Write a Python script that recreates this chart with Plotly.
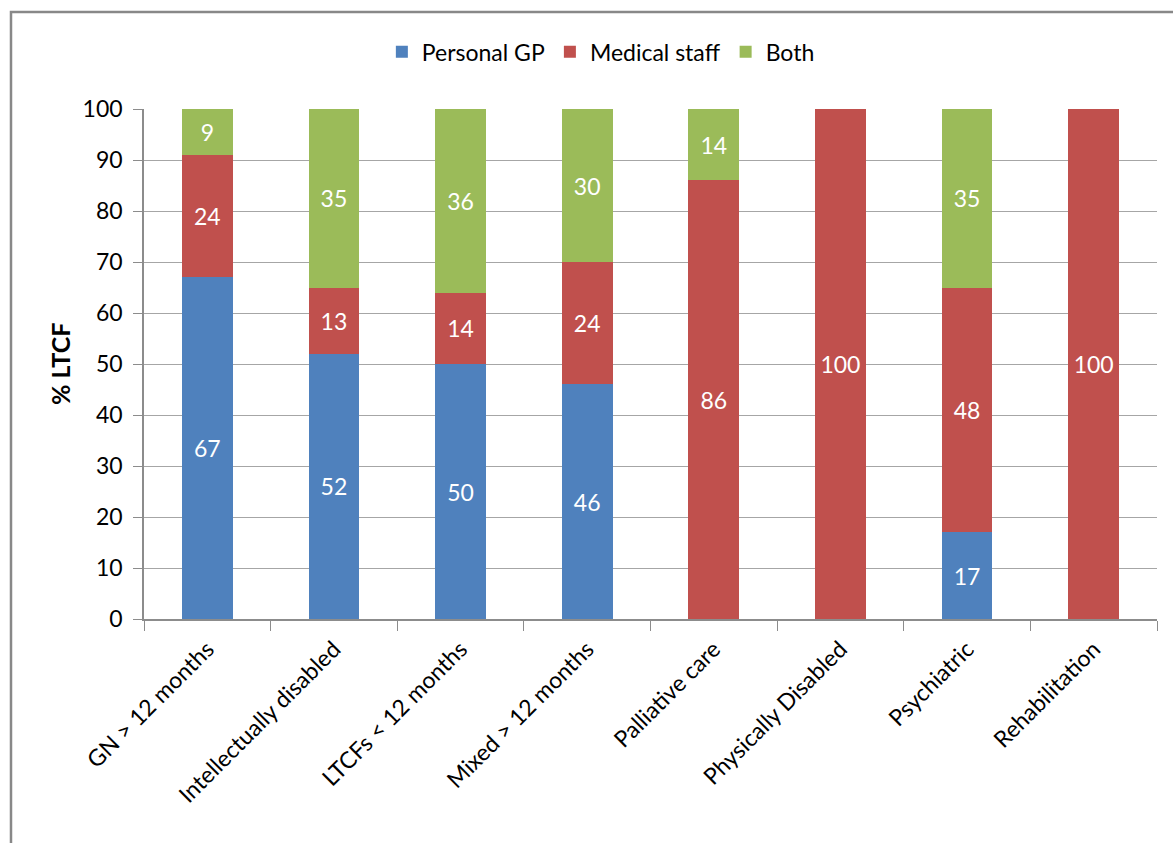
import plotly.graph_objects as go

categories = ["GN > 12 months", "Intellectually disabled", "LTCFs < 12 months",
              "Mixed > 12 months", "Palliative care", "Physically Disabled",
              "Psychiatric", "Rehabilitation"]
personal_gp = [67, 52, 50, 46, 0, 0, 17, 0]
medical_staff = [24, 13, 14, 24, 86, 100, 48, 100]
both = [9, 35, 36, 30, 14, 0, 35, 0]

series = [
    ("Personal GP", personal_gp, "#4F81BD"),
    ("Medical staff", medical_staff, "#C0504D"),
    ("Both", both, "#9BBB59"),
]

FONT = "Lato, Calibri, 'Open Sans', sans-serif"

fig = go.Figure()
for name, vals, color in series:
    fig.add_trace(go.Bar(
        name=name,
        x=categories,
        y=vals,
        marker=dict(color=color, line=dict(width=0)),
        text=[str(v) if v > 0 else "" for v in vals],
        textposition="inside",
        insidetextanchor="middle",
        textangle=0,
        textfont=dict(color="white", size=23, family=FONT),
        hoverinfo="x+y+name",
    ))

fig.update_layout(
    barmode="stack",
    bargap=0.6,
    width=1173,
    height=843,
    margin=dict(l=144, r=16, t=109, b=224),
    paper_bgcolor="white",
    plot_bgcolor="white",
    font=dict(family=FONT, size=23, color="#000000"),
    legend=dict(
        orientation="h",
        x=0.451, xanchor="center",
        y=1.112, yanchor="middle",
        font=dict(size=23, family=FONT),
        traceorder="normal",
        itemwidth=30,
    ),
    xaxis=dict(
        type="category",
        tickangle=-45,
        tickson="boundaries",
        ticks="outside",
        ticklen=10,
        tickcolor="#8c8c8c",
        ticklabelstandoff=6,
        showline=True,
        linecolor="#8c8c8c",
        linewidth=1.5,
        showgrid=False,
        tickfont=dict(size=23, family=FONT),
    ),
    yaxis=dict(
        range=[0, 100],
        tick0=0,
        dtick=10,
        ticks="outside",
        ticklen=9,
        tickcolor="#8c8c8c",
        ticklabelstandoff=6,
        showline=True,
        linecolor="#8c8c8c",
        linewidth=1.5,
        showgrid=True,
        gridcolor="#a6a6a6",
        gridwidth=1.2,
        zeroline=False,
        tickfont=dict(size=23, family=FONT),
    ),
    annotations=[dict(
        text="<b>% LTCF</b>",
        xref="paper", yref="paper",
        x=-0.0829, y=0.5,
        xanchor="center", yanchor="middle",
        textangle=-90,
        showarrow=False,
        font=dict(size=25, family=FONT),
    )],
    shapes=[dict(
        type="rect",
        xref="paper", yref="paper",
        x0=-0.1313, x1=1.2,
        y0=-0.6, y1=1.190,
        line=dict(color="#888888", width=2.5),
        fillcolor="rgba(0,0,0,0)",
        layer="below",
    )],
)

fig.write_html("out.html")
